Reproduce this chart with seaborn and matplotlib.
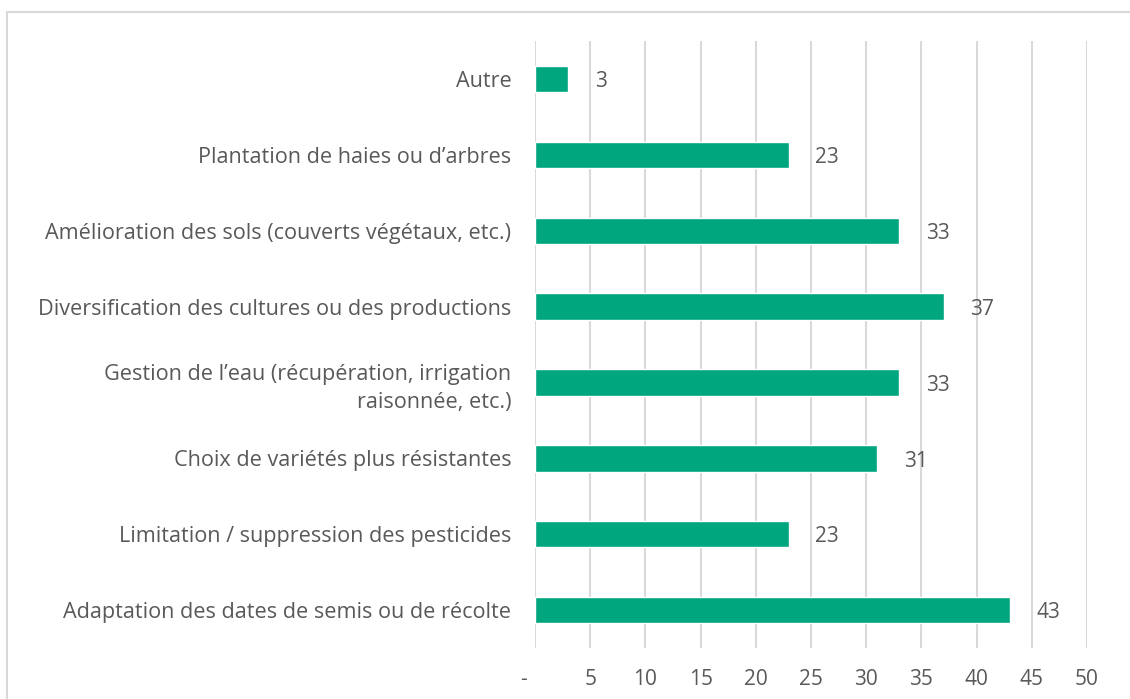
import matplotlib
matplotlib.use("Agg")
import matplotlib.pyplot as plt
from matplotlib.patches import Rectangle
import seaborn as sns
import pandas as pd

# Données du graphique
categories = [
    "Autre",
    "Plantation de haies ou d’arbres",
    "Amélioration des sols (couverts végétaux, etc.)",
    "Diversification des cultures ou des productions",
    "Gestion de l’eau (récupération, irrigation\nraisonnée, etc.)",
    "Choix de variétés plus résistantes",
    "Limitation / suppression des pesticides",
    "Adaptation des dates de semis ou de récolte",
]
valeurs = [3, 23, 33, 37, 33, 31, 23, 43]
x_ticks = [0, 5, 10, 15, 20, 25, 30, 35, 40, 45, 50]
x_tick_labels = ["-    ", "5", "10", "15", "20", "25", "30", "35", "40", "45", "50"]

df = pd.DataFrame({"categorie": categories, "valeur": valeurs})

sns.set_theme(style="white")
plt.rcParams["font.family"] = ["Open Sans", "DejaVu Sans"]

vert = "#00A67E"
gris_texte = "#595959"
gris_grille = "#D9D9D9"

fig = plt.figure(figsize=(11.3, 6.99), dpi=100)
ax = fig.add_axes([0.4735, 0.073, 0.4885, 0.868])

sns.barplot(data=df, y="categorie", x="valeur", color=vert, width=0.35,
            saturation=1, ax=ax, orient="h")

ax.set_xlim(0, 50)
ax.set_ylim(len(categories) - 0.5, -0.5)
ax.set_xticks(x_ticks)
ax.set_xticklabels(x_tick_labels)
ax.set_xlabel("")
ax.set_ylabel("")

for s in ax.spines.values():
    s.set_visible(False)

ax.set_axisbelow(True)
ax.xaxis.grid(True, color=gris_grille, linewidth=1.5)
ax.yaxis.grid(False)
ax.tick_params(axis="x", length=0, pad=15, labelsize=15, labelcolor=gris_texte)
ax.tick_params(axis="y", length=0, pad=17, labelsize=15.6, labelcolor=gris_texte)
for lbl in ax.get_yticklabels():
    lbl.set_linespacing(1.45)

# Étiquettes de valeurs
for i, v in enumerate(valeurs):
    ax.annotate(str(v), xy=(v, i), xytext=(19, -2), textcoords="offset points",
                ha="left", va="center", fontsize=15, color=gris_texte)

# Cadre du graphique (coupé à droite et en bas)
fig.patches.append(Rectangle((7 / 1130, -0.05), 1.2, 1 - 12 / 699 + 0.05,
                             transform=fig.transFigure, fill=False,
                             edgecolor=gris_grille, linewidth=1.5))

fig.savefig("out.png", dpi=100)
